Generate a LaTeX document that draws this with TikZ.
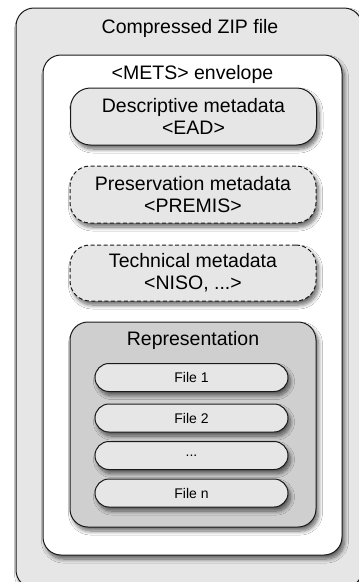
\documentclass[tikz,border=0pt]{standalone}
\usepackage{fontspec}
\setmainfont{Liberation Sans}
\usetikzlibrary{shadows.blur}
\definecolor{boxgray}{HTML}{E6E6E6}
\definecolor{repgray}{HTML}{CFCFCF}
\definecolor{edge}{HTML}{1A1A1A}
\tikzset{
  shad/.style={blur shadow={shadow xshift=2.5pt, shadow yshift=-4pt, shadow blur radius=4pt, shadow blur steps=8, shadow opacity=60}},
  bigbox/.style={draw=edge, line width=1pt, rounded corners=18pt, shad, inner sep=0pt},
  metabox/.style={draw=edge, line width=1pt, fill=boxgray, rounded corners=20pt, shad, minimum width=246pt, inner sep=0pt, align=center, font=\fontsize{19.5}{22}\selectfont},
  dashbox/.style={metabox, dash pattern=on 4pt off 2.5pt},
  filebox/.style={draw=edge, line width=1pt, fill=boxgray, rounded corners=14pt, shad, minimum width=193pt, minimum height=28pt, inner sep=0pt, font=\fontsize{14}{16}\selectfont},
  title/.style={font=\fontsize{19.5}{22}\selectfont, inner sep=0pt}
}
\begin{document}
\begin{tikzpicture}[x=1pt,y=-1pt]
\clip (0,0) rectangle (359,582);
\fill[white] (0,0) rectangle (359,582);
\node[bigbox, fill=boxgray, minimum width=346pt, minimum height=580pt] (zip) at (189,298) {};
\node[title] (ziplabel) at (190,28) {Compressed ZIP file};
\node[bigbox, fill=white, minimum width=299pt, minimum height=500pt] (mets) at (192.5,305) {};
\node[title] (metslabel) at (192.5,74) {<METS> envelope};
\node[metabox, minimum height=57pt] (desc) at (193.5,116.5) {Descriptive metadata\\<EAD>};
\node[dashbox, minimum height=57pt] (pres) at (193,194.5) {Preservation metadata\\<PREMIS>};
\node[dashbox, minimum height=56pt] (tech) at (193,273) {Technical metadata\\<NISO, ...>};
\node[bigbox, fill=repgray, minimum width=246pt, minimum height=205pt] (rep) at (193,424.5) {};
\node[title] (replabel) at (193,340) {Representation};
\node[filebox] (f1) at (191.5,377.5) {File 1};
\node[filebox] (f2) at (191.5,418) {File 2};
\node[filebox] (f3) at (191.5,455.5) {...};
\node[filebox] (fn) at (191.5,493) {File n};
\end{tikzpicture}
\end{document}
